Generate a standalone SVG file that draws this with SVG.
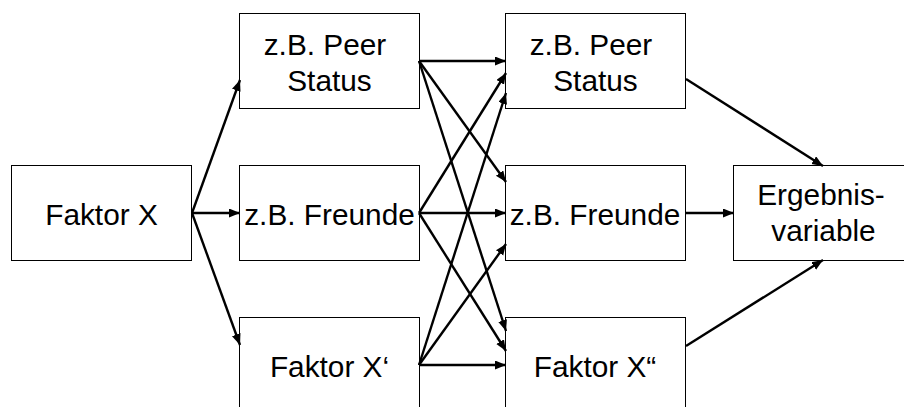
<svg xmlns="http://www.w3.org/2000/svg" width="904" height="407" viewBox="0 0 904 407">
  <style>
    .box { fill: #fff; stroke: #000; stroke-width: 1; }
    .lbl { font-family: "Liberation Sans", Arial, sans-serif; font-size: 29.8px; fill: #000; text-anchor: middle; }
    .edge { stroke: #000; stroke-width: 2.4; fill: none; marker-end: url(#arrow); }
  </style>
  <defs>
    <marker id="arrow" markerUnits="userSpaceOnUse" markerWidth="12" markerHeight="10" refX="11" refY="4.5" orient="auto">
      <path d="M0,0 L11,4.5 L0,9 z" fill="#000"/>
    </marker>
  </defs>
  <rect width="904" height="407" fill="#fff"/>

  <g id="faktor-x">
    <rect class="box" x="11.5" y="165.5" width="180" height="95"/>
    <text class="lbl" x="101.5" y="225">Faktor X</text>
  </g>

  <g id="peer-status-1">
    <rect class="box" x="239.5" y="13.5" width="180" height="95"/>
    <text class="lbl" x="325" y="55">z.B. Peer</text>
    <text class="lbl" x="329.5" y="91">Status</text>
  </g>
  <g id="freunde-1">
    <rect class="box" x="239.5" y="165.5" width="180" height="95"/>
    <text class="lbl" x="329.5" y="225">z.B. Freunde</text>
  </g>
  <g id="faktor-x1">
    <rect class="box" x="239.5" y="317.5" width="180" height="95"/>
    <text class="lbl" x="329.5" y="377">Faktor X‘</text>
  </g>

  <g id="peer-status-2">
    <rect class="box" x="505.5" y="13.5" width="180" height="95"/>
    <text class="lbl" x="591" y="55">z.B. Peer</text>
    <text class="lbl" x="595.5" y="91">Status</text>
  </g>
  <g id="freunde-2">
    <rect class="box" x="505.5" y="165.5" width="180" height="95"/>
    <text class="lbl" x="595" y="225">z.B. Freunde</text>
  </g>
  <g id="faktor-x2">
    <rect class="box" x="505.5" y="317.5" width="180" height="95"/>
    <text class="lbl" x="595" y="377">Faktor X“</text>
  </g>

  <g id="ergebnisvariable">
    <rect class="box" x="733.5" y="165.5" width="180" height="95"/>
    <text class="lbl" x="821" y="205">Ergebnis-</text>
    <text class="lbl" x="823.5" y="241">variable</text>
  </g>

  <g id="connectors">
    <!-- Faktor X to the second column -->
    <line class="edge" x1="192" y1="213" x2="240" y2="80"/>
    <line class="edge" x1="192" y1="213" x2="240" y2="213"/>
    <line class="edge" x1="192" y1="213" x2="240" y2="345"/>

    <!-- second column to third column -->
    <line class="edge" x1="419" y1="61" x2="506" y2="61"/>
    <line class="edge" x1="419" y1="61" x2="506" y2="182"/>
    <line class="edge" x1="419" y1="61" x2="506" y2="331"/>

    <line class="edge" x1="419" y1="213" x2="506" y2="73"/>
    <line class="edge" x1="419" y1="213" x2="506" y2="213"/>
    <line class="edge" x1="419" y1="213" x2="506" y2="351"/>

    <line class="edge" x1="419" y1="365" x2="506" y2="93"/>
    <line class="edge" x1="419" y1="365" x2="506" y2="244"/>
    <line class="edge" x1="419" y1="365" x2="506" y2="365"/>

    <!-- third column to the outcome -->
    <line class="edge" x1="686" y1="79" x2="823" y2="166"/>
    <line class="edge" x1="686" y1="213" x2="734" y2="213"/>
    <line class="edge" x1="686" y1="346" x2="823" y2="260"/>
  </g>
</svg>
